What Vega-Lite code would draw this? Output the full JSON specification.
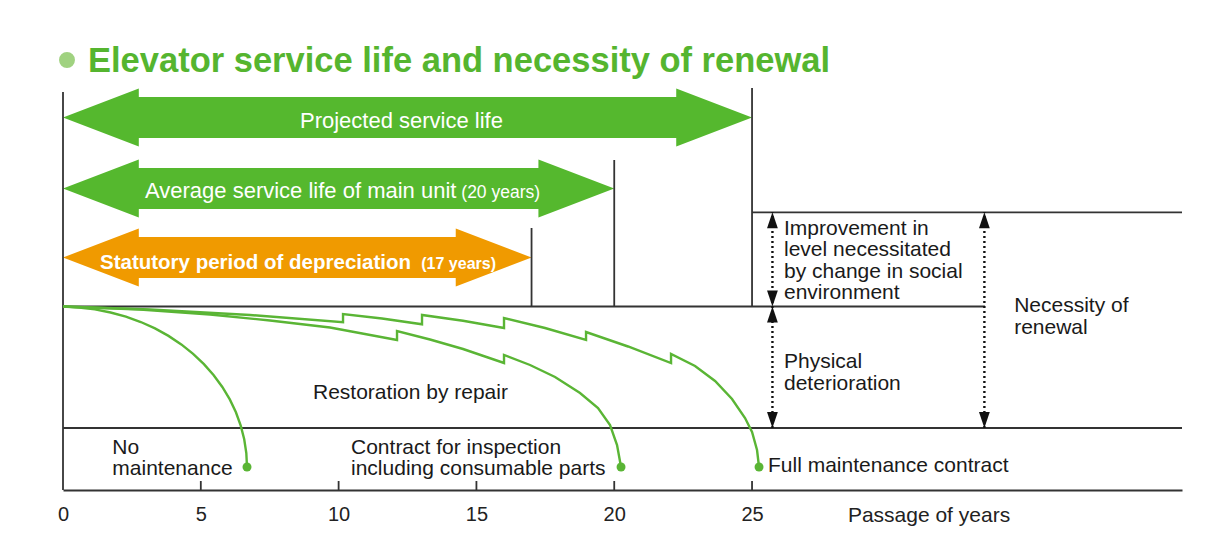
{
  "$schema": "https://vega.github.io/schema/vega-lite/v6.json",
  "width": 1119,
  "height": 410,
  "autosize": {"type": "none"},
  "padding": {"left": 63, "top": 80, "right": 32, "bottom": 68},
  "background": "white",
  "config": {"view": {"stroke": null}, "font": "Liberation Sans"},
  "title": {
    "text": "Elevator service life and necessity of renewal",
    "anchor": "start", "frame": "group", "dx": 25, "dy": 62, "offset": 8, "baseline": "alphabetic",
    "font": "Liberation Sans", "fontSize": 34.5, "fontWeight": "bold", "color": "#55b52f"
  },
  "datasets": {
    "arrows": [
      {"arrow": "Projected", "x": 0, "y": 372.5, "y2": 372.5},
      {"arrow": "Projected", "x": 2.75, "y": 401.5, "y2": 343.5},
      {"arrow": "Projected", "x": 2.751, "y": 393, "y2": 352},
      {"arrow": "Projected", "x": 22.249, "y": 393, "y2": 352},
      {"arrow": "Projected", "x": 22.25, "y": 401.5, "y2": 343.5},
      {"arrow": "Projected", "x": 25, "y": 372.5, "y2": 372.5},
      {"arrow": "Average", "x": 0, "y": 301.5, "y2": 301.5},
      {"arrow": "Average", "x": 2.75, "y": 330.5, "y2": 272.5},
      {"arrow": "Average", "x": 2.751, "y": 322, "y2": 281},
      {"arrow": "Average", "x": 17.249, "y": 322, "y2": 281},
      {"arrow": "Average", "x": 17.25, "y": 330.5, "y2": 272.5},
      {"arrow": "Average", "x": 20, "y": 301.5, "y2": 301.5},
      {"arrow": "Statutory", "x": 0, "y": 232.5, "y2": 232.5},
      {"arrow": "Statutory", "x": 2.75, "y": 261.5, "y2": 203.5},
      {"arrow": "Statutory", "x": 2.751, "y": 253, "y2": 212},
      {"arrow": "Statutory", "x": 14.249, "y": 253, "y2": 212},
      {"arrow": "Statutory", "x": 14.25, "y": 261.5, "y2": 203.5},
      {"arrow": "Statutory", "x": 17, "y": 232.5, "y2": 232.5}
    ],
    "rules": [
      {"x": 0, "x2": 0, "y": 0, "y2": 398},
      {"x": 25, "x2": 25, "y": 183.5, "y2": 402},
      {"x": 20, "x2": 20, "y": 183.5, "y2": 330},
      {"x": 17, "x2": 17, "y": 183.5, "y2": 262},
      {"x": 0, "x2": 33.45, "y": 183.5, "y2": 183.5},
      {"x": 25, "x2": 40.6, "y": 277.7, "y2": 277.7},
      {"x": 0, "x2": 40.6, "y": 62, "y2": 62},
      {"x": 5, "x2": 5, "y": 0, "y2": 9},
      {"x": 10, "x2": 10, "y": 0, "y2": 9},
      {"x": 15, "x2": 15, "y": 0, "y2": 9},
      {"x": 20, "x2": 20, "y": 0, "y2": 9},
      {"x": 25, "x2": 25, "y": 0, "y2": 9}
    ],
    "dotted": [
      {"x": 25.74, "y": 62, "y2": 277.7},
      {"x": 33.43, "y": 62, "y2": 277.7}
    ],
    "heads": [
      {"x": 25.74, "y": 277.7, "dir": "up"},
      {"x": 25.74, "y": 183.5, "dir": "down"},
      {"x": 25.74, "y": 183.5, "dir": "up"},
      {"x": 25.74, "y": 62, "dir": "down"},
      {"x": 33.43, "y": 277.7, "dir": "up"},
      {"x": 33.43, "y": 62, "dir": "down"}
    ],
    "curves": [
      {"series": "No maintenance", "i": 0, "x": 0, "y": 183.5},
      {"series": "No maintenance", "i": 1, "x": 0.581, "y": 182.4},
      {"series": "No maintenance", "i": 2, "x": 1.157, "y": 180.6},
      {"series": "No maintenance", "i": 3, "x": 1.727, "y": 177.5},
      {"series": "No maintenance", "i": 4, "x": 2.282, "y": 173.4},
      {"series": "No maintenance", "i": 5, "x": 2.823, "y": 168},
      {"series": "No maintenance", "i": 6, "x": 3.338, "y": 161.6},
      {"series": "No maintenance", "i": 7, "x": 3.828, "y": 154.1},
      {"series": "No maintenance", "i": 8, "x": 4.292, "y": 145.6},
      {"series": "No maintenance", "i": 9, "x": 4.721, "y": 136.1},
      {"series": "No maintenance", "i": 10, "x": 5.113, "y": 125.8},
      {"series": "No maintenance", "i": 11, "x": 5.468, "y": 114.8},
      {"series": "No maintenance", "i": 12, "x": 5.78, "y": 103},
      {"series": "No maintenance", "i": 13, "x": 6.052, "y": 90.6},
      {"series": "No maintenance", "i": 14, "x": 6.274, "y": 77.7},
      {"series": "No maintenance", "i": 15, "x": 6.448, "y": 64.4},
      {"series": "No maintenance", "i": 16, "x": 6.575, "y": 50.8},
      {"series": "No maintenance", "i": 17, "x": 6.651, "y": 37},
      {"series": "No maintenance", "i": 18, "x": 6.676, "y": 23},
      {"series": "Inspection", "i": 0, "x": 0, "y": 183.5},
      {"series": "Inspection", "i": 1, "x": 2.794, "y": 180.5},
      {"series": "Inspection", "i": 2, "x": 5.334, "y": 175.5},
      {"series": "Inspection", "i": 3, "x": 7.511, "y": 169.5},
      {"series": "Inspection", "i": 4, "x": 9.688, "y": 162.5},
      {"series": "Inspection", "i": 5, "x": 12.119, "y": 150},
      {"series": "Inspection", "i": 6, "x": 12.119, "y": 159},
      {"series": "Inspection", "i": 7, "x": 13.316, "y": 150.5},
      {"series": "Inspection", "i": 8, "x": 14.514, "y": 141},
      {"series": "Inspection", "i": 9, "x": 16.001, "y": 127},
      {"series": "Inspection", "i": 10, "x": 16.001, "y": 135},
      {"series": "Inspection", "i": 11, "x": 16.945, "y": 125},
      {"series": "Inspection", "i": 12, "x": 17.852, "y": 113},
      {"series": "Inspection", "i": 13, "x": 18.759, "y": 97},
      {"series": "Inspection", "i": 14, "x": 19.412, "y": 82},
      {"series": "Inspection", "i": 15, "x": 19.848, "y": 65},
      {"series": "Inspection", "i": 16, "x": 20.102, "y": 45},
      {"series": "Inspection", "i": 17, "x": 20.247, "y": 23},
      {"series": "Full", "i": 0, "x": 0, "y": 183.5},
      {"series": "Full", "i": 1, "x": 3.157, "y": 180.5},
      {"series": "Full", "i": 2, "x": 6.785, "y": 175},
      {"series": "Full", "i": 3, "x": 10.16, "y": 167.7},
      {"series": "Full", "i": 4, "x": 10.16, "y": 176},
      {"series": "Full", "i": 5, "x": 11.575, "y": 171.5},
      {"series": "Full", "i": 6, "x": 13.026, "y": 165.7},
      {"series": "Full", "i": 7, "x": 13.026, "y": 175},
      {"series": "Full", "i": 8, "x": 14.514, "y": 169.2},
      {"series": "Full", "i": 9, "x": 16.001, "y": 162},
      {"series": "Full", "i": 10, "x": 16.001, "y": 172},
      {"series": "Full", "i": 11, "x": 17.489, "y": 162},
      {"series": "Full", "i": 12, "x": 18.977, "y": 150},
      {"series": "Full", "i": 13, "x": 18.977, "y": 158},
      {"series": "Full", "i": 14, "x": 20.501, "y": 143.5},
      {"series": "Full", "i": 15, "x": 22.061, "y": 127},
      {"series": "Full", "i": 16, "x": 22.061, "y": 136},
      {"series": "Full", "i": 17, "x": 22.932, "y": 124},
      {"series": "Full", "i": 18, "x": 23.658, "y": 109},
      {"series": "Full", "i": 19, "x": 24.274, "y": 91},
      {"series": "Full", "i": 20, "x": 24.746, "y": 72},
      {"series": "Full", "i": 21, "x": 25.0, "y": 58},
      {"series": "Full", "i": 22, "x": 25.181, "y": 40},
      {"series": "Full", "i": 23, "x": 25.254, "y": 23}
    ],
    "dots": [
      {"series": "No maintenance", "x": 6.676, "y": 23},
      {"series": "Inspection", "x": 20.247, "y": 23},
      {"series": "Full", "x": 25.254, "y": 23}
    ],
    "labels": [
      {"text": "Improvement in\nlevel necessitated\nby change in social\nenvironment", "x": 26.16, "y": 255},
      {"text": "Physical\ndeterioration", "x": 26.16, "y": 121.7},
      {"text": "Necessity of\nrenewal", "x": 34.51, "y": 177.7},
      {"text": "Restoration by repair", "x": 9.071, "y": 90.7},
      {"text": "No\nmaintenance", "x": 1.789, "y": 36},
      {"text": "Contract for inspection\nincluding consumable parts", "x": 10.45, "y": 36},
      {"text": "Full maintenance contract", "x": 25.58, "y": 17.7}
    ],
    "arrowText": [
      {"part": "proj", "text": "Projected service life", "x": 12.28, "y": 362.3},
      {"part": "avgMain", "text": "Average service life of main unit", "x": 2.975, "y": 292.3},
      {"part": "avgParen", "text": "(20 years)", "x": 17.31, "y": 292.3},
      {"part": "statMain", "text": "Statutory period of depreciation", "x": 1.343, "y": 220.7},
      {"part": "statParen", "text": "(17 years)", "x": 15.71, "y": 220.7}
    ],
    "bullet": [{"x": 0.145, "y": 430}]
  },
  "encoding": {
    "x": {
      "field": "x", "type": "quantitative",
      "scale": {"domain": [0, 40.6], "nice": false, "zero": false},
      "axis": {
        "values": [0, 5, 10, 15, 20, 25], "format": "d", "ticks": false, "tickSize": 0, "grid": false,
        "domain": true, "domainColor": "#333333", "domainWidth": 1.8,
        "labelFont": "Liberation Sans", "labelFontSize": 20, "labelColor": "#222222",
        "labelBaseline": "alphabetic", "labelPadding": 30.5, "labelAngle": 0, "labelFlush": false, "labelOverlap": false,
        "title": "Passage of years", "titleFont": "Liberation Sans", "titleFontSize": 21, "titleFontWeight": "normal",
        "titleColor": "#222222", "titleX": 865.5, "titleY": 31, "titleBaseline": "alphabetic", "titleAlign": "center"
      }
    },
    "y": {
      "field": "y", "type": "quantitative",
      "scale": {"domain": [0, 410], "nice": false, "zero": false},
      "axis": null
    }
  },
  "layer": [
    {
      "data": {"name": "arrows"},
      "mark": {"type": "area", "interpolate": "linear", "opacity": 1},
      "encoding": {
        "y2": {"field": "y2"},
        "color": {"field": "arrow", "type": "nominal", "legend": null,
          "scale": {"domain": ["Projected", "Average", "Statutory"], "range": ["#55b82e", "#55b82e", "#f09a00"]}}
      }
    },
    {
      "data": {"name": "rules"},
      "mark": {"type": "rule", "color": "#333333", "strokeWidth": 1.8},
      "encoding": {"x2": {"field": "x2"}, "y2": {"field": "y2"}}
    },
    {
      "data": {"name": "dotted"},
      "mark": {"type": "rule", "color": "#111111", "strokeWidth": 2.4, "strokeDash": [2, 3]},
      "encoding": {"y2": {"field": "y2"}}
    },
    {
      "data": {"name": "heads"},
      "mark": {"type": "point", "filled": true, "opacity": 1, "size": 64, "color": "#111111", "strokeWidth": 0},
      "encoding": {
        "shape": {"field": "dir", "type": "nominal", "legend": null,
          "scale": {"domain": ["up", "down"], "range": ["M0,0L1.35,4L-1.35,4Z", "M0,0L1.35,-4L-1.35,-4Z"]}}
      }
    },
    {
      "data": {"name": "curves"},
      "mark": {"type": "line", "color": "#5ab535", "strokeWidth": 2.4, "interpolate": "linear"},
      "encoding": {
        "detail": {"field": "series", "type": "nominal"},
        "order": {"field": "i", "type": "quantitative"}
      }
    },
    {
      "data": {"name": "dots"},
      "mark": {"type": "point", "filled": true, "opacity": 1, "size": 80, "color": "#5ab535", "shape": "circle"}
    },
    {
      "data": {"name": "labels"},
      "mark": {"type": "text", "align": "left", "baseline": "alphabetic", "fontSize": 21, "lineHeight": 21.3,
        "lineBreak": "\n", "color": "#1a1a1a", "font": "Liberation Sans"},
      "encoding": {"text": {"field": "text"}}
    },
    {
      "data": {"name": "arrowText"},
      "transform": [{"filter": "datum.part === 'proj'"}],
      "mark": {"type": "text", "align": "center", "baseline": "alphabetic", "fontSize": 22, "color": "white", "font": "Liberation Sans"},
      "encoding": {"text": {"field": "text"}}
    },
    {
      "data": {"name": "arrowText"},
      "transform": [{"filter": "datum.part === 'avgMain'"}],
      "mark": {"type": "text", "align": "left", "baseline": "alphabetic", "fontSize": 22, "color": "white", "font": "Liberation Sans"},
      "encoding": {"text": {"field": "text"}}
    },
    {
      "data": {"name": "arrowText"},
      "transform": [{"filter": "datum.part === 'avgParen'"}],
      "mark": {"type": "text", "align": "right", "baseline": "alphabetic", "fontSize": 17.5, "color": "white", "font": "Liberation Sans"},
      "encoding": {"text": {"field": "text"}}
    },
    {
      "data": {"name": "arrowText"},
      "transform": [{"filter": "datum.part === 'statMain'"}],
      "mark": {"type": "text", "align": "left", "baseline": "alphabetic", "fontSize": 20.5, "fontWeight": "bold", "color": "white", "font": "Liberation Sans"},
      "encoding": {"text": {"field": "text"}}
    },
    {
      "data": {"name": "arrowText"},
      "transform": [{"filter": "datum.part === 'statParen'"}],
      "mark": {"type": "text", "align": "right", "baseline": "alphabetic", "fontSize": 16, "fontWeight": "bold", "color": "white", "font": "Liberation Sans"},
      "encoding": {"text": {"field": "text"}}
    },
    {
      "data": {"name": "bullet"},
      "mark": {"type": "point", "filled": true, "opacity": 1, "size": 254, "color": "#a0d280", "shape": "circle"}
    }
  ]
}
